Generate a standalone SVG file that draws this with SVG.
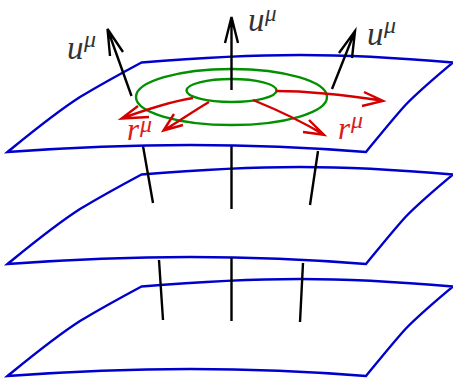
<svg xmlns="http://www.w3.org/2000/svg" width="453" height="378" viewBox="0 0 453 378">
<style>
.sheet{fill:none;stroke:#0000cc;stroke-width:2.400}
.ring{fill:none;stroke:#009000;stroke-width:2.400}
.k{fill:none;stroke:#000;stroke-width:2.400}
.r{fill:none;stroke:#d40000;stroke-width:2.400}
text{font-family:"Liberation Serif",serif;font-style:italic}
.lk{fill:#333;font-size:33px}
.lr{fill:#d82020;font-size:31px}
.sup{font-size:24px}
.supt{font-size:23px}
</style>
<defs>
<path id="s" d="M7.500 152C70 147.500 130 145 190 145C250 145 310 147.500 366 152C380 135 392 120 405 105.500C420 90 437 76 453 62.500C400 58 350 55 300 55C245 55 190 58.500 141.500 62.500C120 74 100 85 80 97C55 113 32 132 7.500 152Z"/>
</defs>
<g id="sheet-3"><use href="#s" class="sheet" y="224"/></g>
<g id="sheet-2"><use href="#s" class="sheet" y="112"/></g>
<g id="connectors">
<path class="k" d="M159 260L163 320M231.500 258V321M303 263L300 322"/>
<path class="k" d="M143 146L153 203M231.500 146V209M318 151L310 205"/>
</g>
<g id="sheet-1"><use href="#s" class="sheet"/></g>
<g id="rings">
<ellipse class="ring" cx="231.500" cy="97" rx="95.500" ry="28"/>
<ellipse class="ring" cx="231.500" cy="90.500" rx="45" ry="11.500"/>
</g>
<g id="normals">
<path class="k" d="M131.500 96L107.500 29M110 56L107.500 29L123 52"/>
<path class="k" d="M231.500 90V17M225 43L231.500 17L238 43"/>
<path class="k" d="M332 89L355 31M339 53L355 31L352 58"/>
</g>
<g id="radials">
<path class="r" d="M193 98C168 102 145 110 121.500 118.500M138 106L121.500 118.500L149 117"/>
<path class="r" d="M209 102C192 112 178 122 163.500 130.500M174 114L163.500 130.500L183 125"/>
<path class="r" d="M276 91C310 91 345 95 383 100.800M364 92L383 100.800L362 106"/>
<path class="r" d="M253 100C280 111 303 122 324 134.800M309 120L324 134.800L303 132"/>
</g>
<g id="labels">
<text class="lk" x="67" y="59">u<tspan class="sup" x="84" dy="-12">μ</tspan></text>
<text class="lk" x="248" y="31">u<tspan class="supt" x="265" dy="-10">μ</tspan></text>
<text class="lk" x="367" y="45">u<tspan class="sup" x="384" dy="-12">μ</tspan></text>
<text class="lr" x="127" y="140">r<tspan class="sup" x="140" dy="-8">μ</tspan></text>
<text class="lr" x="338" y="139">r<tspan class="sup" x="351" dy="-11">μ</tspan></text>
</g>
</svg>
